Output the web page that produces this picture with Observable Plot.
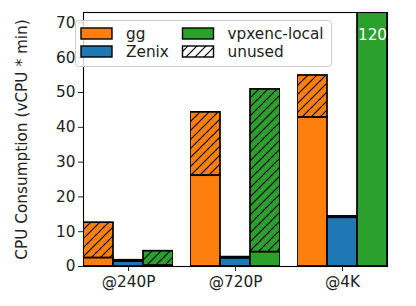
<!DOCTYPE html>
<html><head><meta charset="utf-8">
<script src="https://cdn.jsdelivr.net/npm/d3@7"></script>
<script src="https://cdn.jsdelivr.net/npm/@observablehq/plot@0.6"></script>
<style>
body{margin:0;background:#fff;}
#chart{width:416px;height:306px;}
</style>
</head><body>
<svg width="0" height="0" style="position:absolute" id="defs-holder"><defs id="pat-defs"></defs></svg>
<div id="chart"></div>
<script>
const categories = ["@240P", "@720P", "@4K"];
const systems = ["gg", "Zenix", "vpxenc-local"];
const colors = ["#ff7f0e", "#1f77b4", "#2ca02c"];
const ggUsed = [2.4, 26.1, 42.8];
const ggTotal = [12.6, 44.3, 54.9];
const zenixUsed = [1.4, 2.3, 14.0];
const zenixTotal = [1.8, 2.7, 14.4];
const vpxUsed = [0.2, 4.1, 120];
const vpxTotal = [4.4, 50.9, 120];
const yTicks = [0, 10, 20, 30, 40, 50, 60, 70];
const yLabel = "CPU Consumption (vCPU * min)";
const legendLabels = ["gg", "Zenix", "vpxenc-local", "unused"];
const clippedLabel = "120";

const FONT = "DejaVu Sans";
const FS = 15.3;

const usedBy = [ggUsed, zenixUsed, vpxUsed];
const totalBy = [ggTotal, zenixTotal, vpxTotal];

// hatch patterns
const defs = d3.select("#pat-defs");
function addPattern(id, bg) {
  const p = defs.append("pattern").attr("id", id)
    .attr("patternUnits", "userSpaceOnUse").attr("width", 9).attr("height", 9);
  p.append("rect").attr("width", 9).attr("height", 9).attr("fill", bg);
  p.append("path").attr("d", "M-2,11 L11,-2 M-2,2 L2,-2 M7,11 L11,7")
    .attr("stroke", "black").attr("stroke-width", 1.2);
}
systems.forEach((s, i) => addPattern("hatch-" + i, colors[i]));
addPattern("hatch-legend", "white");

const rows = [];
systems.forEach((s, i) => categories.forEach((c, j) => {
  rows.push({system: s, si: i, category: c, used: usedBy[i][j], total: totalBy[i][j]});
}));

const marks = [];
systems.forEach((s, i) => {
  const d = rows.filter(r => r.si === i);
  marks.push(Plot.barY(d, {fx: "category", x: "system", y1: "used", y2: "total",
    fill: `url(#hatch-${i})`, stroke: "black", strokeWidth: 1.7, clip: true}));
  marks.push(Plot.barY(d, {fx: "category", x: "system", y1: 0, y2: "used",
    fill: colors[i], stroke: "black", strokeWidth: 1.7, clip: true}));
});
const clipped = rows.filter(r => r.total > 73);
marks.push(Plot.text(clipped, {fx: "category", x: "system", frameAnchor: "top", dy: 17,
  text: () => clippedLabel, fill: "white", fontSize: FS}));
marks.push(Plot.frame({stroke: "black", strokeWidth: 1.1, facet: "super"}));
marks.push(Plot.axisY({ticks: yTicks, tickSize: 5, tickPadding: 3, label: yLabel,
  labelAnchor: "center", labelArrow: "none", labelOffset: 67, fontSize: FS}));
marks.push(Plot.axisFx({anchor: "bottom", tickSize: 5, tickPadding: 5, label: null, fontSize: FS}));

const plot = Plot.plot({
  width: 416, height: 306,
  marginLeft: 67, marginRight: 13, marginTop: 12, marginBottom: 40,
  style: {fontFamily: FONT, fontSize: FS + "px", color: "#222", background: "white"},
  fx: {domain: categories, paddingInner: 0.16, paddingOuter: 0.15, label: null},
  x: {domain: systems, padding: 0, axis: null},
  y: {domain: [0, 73], label: yLabel},
  marks
});
document.getElementById("chart").appendChild(plot);

// legend
const svg = d3.select(plot);
const lg = svg.append("g").attr("font-family", FONT).attr("font-size", FS).attr("text-anchor", "start");
lg.append("rect").attr("x", 75.5).attr("y", 20.5).attr("width", 256).attr("height", 46)
  .attr("rx", 3).attr("fill", "white").attr("fill-opacity", 0.8).attr("stroke", "#ccc");
const legendFills = [colors[0], colors[1], colors[2], "url(#hatch-legend)"];
legendLabels.forEach((lab, k) => {
  const col = Math.floor(k / 2), row = k % 2;
  const x0 = 81 + col * 101.5, y0 = 28 + row * 18;
  lg.append("rect").attr("x", x0).attr("y", y0).attr("width", 31).attr("height", 11)
    .attr("fill", legendFills[k]).attr("stroke", "black").attr("stroke-width", 1.4);
  lg.append("text").attr("x", x0 + 45).attr("y", y0 + 5.5).attr("dy", "0.35em")
    .attr("fill", "#222").text(lab);
});
</script>
</body></html>
